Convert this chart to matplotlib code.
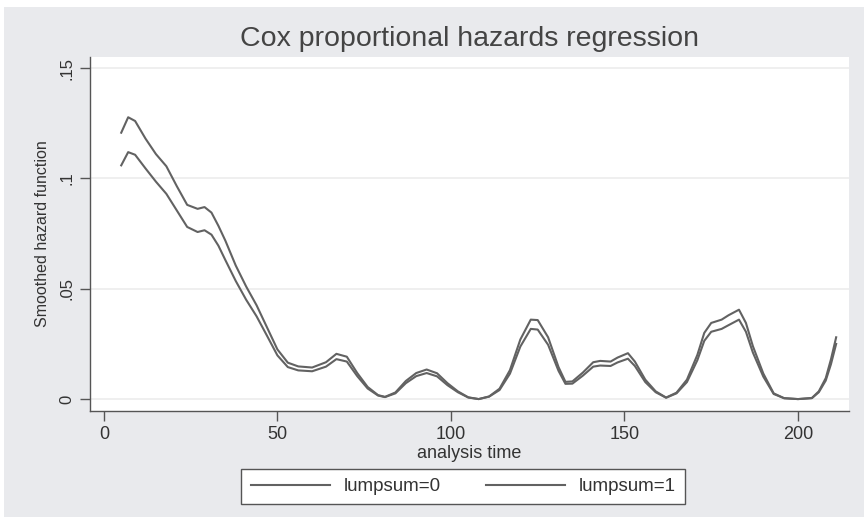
import matplotlib
matplotlib.use("Agg")
import matplotlib.pyplot as plt
from matplotlib.patches import Rectangle

plt.rcParams['font.family'] = ['Liberation Sans', 'DejaVu Sans']

# analysis time grid and smoothed hazard
t = [5, 7, 9, 12, 15, 18, 21, 24, 27, 29, 31, 33, 35, 38, 41, 44, 47, 50,
     53, 56, 60, 64, 67, 70, 73, 76, 79, 81, 84, 87, 90, 93, 96, 99, 102,
     105, 108, 111, 114, 117, 120, 123, 125, 128, 131, 133, 135, 138, 141,
     143, 146, 148, 151, 153, 156, 159, 162, 165, 168, 171, 173, 175, 178,
     180, 183, 185, 187, 190, 193, 196, 200, 204, 206, 208, 209.5, 211]

haz0 = [0.1207, 0.1277, 0.1260, 0.1180, 0.1110, 0.1055, 0.0965, 0.0880,
        0.0862, 0.0870, 0.0845, 0.0785, 0.0718, 0.0605, 0.0510, 0.0425,
        0.0325, 0.0225, 0.0165, 0.0148, 0.0143, 0.0167, 0.0205, 0.0192,
        0.0118, 0.0055, 0.0018, 0.0010, 0.0030, 0.0082, 0.0118, 0.0134,
        0.0117, 0.0072, 0.0035, 0.0008, 0.0000, 0.0012, 0.0047, 0.0131,
        0.0270, 0.0360, 0.0358, 0.0280, 0.0145, 0.0078, 0.0080, 0.0120,
        0.0167, 0.0173, 0.0170, 0.0188, 0.0208, 0.0170, 0.0088, 0.0035,
        0.0007, 0.0029, 0.0088, 0.0200, 0.0300, 0.0345, 0.0360, 0.0380,
        0.0405, 0.0345, 0.0240, 0.0116, 0.0026, 0.0004, 0.0000, 0.0005,
        0.0035, 0.0095, 0.0180, 0.0280]

haz1 = [0.1059, 0.1119, 0.1107, 0.1045, 0.0985, 0.0930, 0.0855, 0.0780,
        0.0757, 0.0765, 0.0745, 0.0695, 0.0630, 0.0535, 0.0450, 0.0375,
        0.0287, 0.0198, 0.0145, 0.0130, 0.0126, 0.0147, 0.0181, 0.0170,
        0.0104, 0.0048, 0.0016, 0.0009, 0.0026, 0.0072, 0.0104, 0.0118,
        0.0103, 0.0063, 0.0031, 0.0007, 0.0000, 0.0011, 0.0041, 0.0115,
        0.0238, 0.0318, 0.0315, 0.0246, 0.0128, 0.0069, 0.0070, 0.0106,
        0.0147, 0.0152, 0.0150, 0.0166, 0.0183, 0.0150, 0.0077, 0.0031,
        0.0006, 0.0026, 0.0077, 0.0176, 0.0264, 0.0305, 0.0318, 0.0335,
        0.0360, 0.0305, 0.0211, 0.0102, 0.0023, 0.0004, 0.0000, 0.0004,
        0.0031, 0.0084, 0.0158, 0.0250]

yticks = [0, 0.05, 0.1, 0.15]
ytick_labels = ['0', '.05', '.1', '.15']
xticks = [0, 50, 100, 150, 200]

W, H = 864, 525
fig = plt.figure(figsize=(W / 100, H / 100), dpi=100, facecolor='white')
# grey graph region (thin white margin around it)
fig.patches.append(Rectangle((4 / W, 8 / H), 1 - 4 / W, 1 - 15 / H,
                             transform=fig.transFigure, facecolor='#e9eaed',
                             edgecolor='none', zorder=-5))

ax = fig.add_axes([90 / W, 1 - 411 / H, (849 - 90) / W, (411 - 57) / H])
ax.set_facecolor('white')

line_col = '#626262'
ax.plot(t, haz0, color=line_col, lw=1.5, label='lumpsum=0')
ax.plot(t, haz1, color=line_col, lw=1.5, label='lumpsum=1')

ax.set_xlim(-4.0, 214.7)
ax.set_ylim(-0.0054, 0.155)
ax.set_xticks(xticks)
ax.set_yticks(yticks)
ax.set_yticklabels(ytick_labels, rotation=90, va='center')
ax.grid(axis='y', color='#ececec', lw=1.2)
ax.set_axisbelow(True)

for s in ['top', 'right']:
    ax.spines[s].set_visible(False)
for s in ['left', 'bottom']:
    ax.spines[s].set_color('#555555')
    ax.spines[s].set_linewidth(1.0)
ax.tick_params(colors='#555555', labelcolor='#333333', labelsize=13,
               length=7, width=1.0, pad=4)
ax.tick_params(axis='y', labelsize=12)

ax.set_xlabel('analysis time', fontsize=13, color='#333333', labelpad=1)
ax.set_ylabel('Smoothed hazard function', fontsize=11.5, color='#333333',
              labelpad=7)

fig.text(469.5 / W, 1 - 39 / H, 'Cox proportional hazards regression',
         ha='center', va='center', fontsize=20.5, color='#444444')

leg = fig.legend(loc='center', bbox_to_anchor=(463 / W, 1 - 486.5 / H),
                 ncol=2, fontsize=13.5, frameon=True, fancybox=False,
                 handlelength=4.25, handletextpad=0.7, columnspacing=2.4,
                 borderpad=0.5, borderaxespad=0)
leg.get_frame().set_edgecolor('#555555')
leg.get_frame().set_linewidth(1.0)
leg.get_frame().set_alpha(1)
for txt in leg.get_texts():
    txt.set_color('#333333')

fig.savefig('out.png', dpi=100)
